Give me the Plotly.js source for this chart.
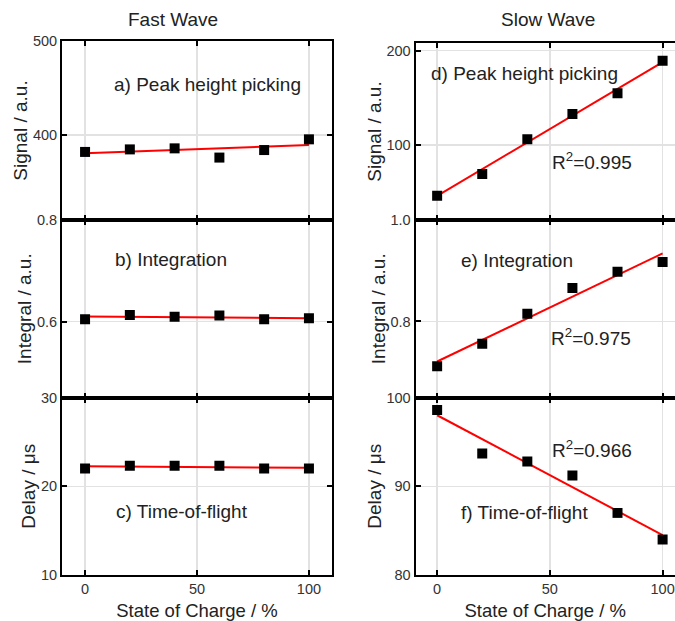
<!DOCTYPE html>
<html>
<head>
<meta charset="utf-8">
<script src="https://cdn.plot.ly/plotly-3.0.1.min.js"></script>
<style>html,body{margin:0;padding:0;background:#fff;}#chart{width:675px;height:621px;}</style>
</head>
<body>
<div id="chart"></div>
<script>
// ---- data ----
const soc = [0, 20, 40, 60, 80, 100];
const fitX = [0, 100];
const fastPeak = [382, 384.7, 385.8, 376, 384, 395.4];
const fastPeakFit = [380.5, 389.4];
const fastInt = [0.605, 0.613, 0.610, 0.612, 0.605, 0.607];
const fastIntFit = [0.6104, 0.607];
const fastTof = [22.0, 22.3, 22.3, 22.3, 22.0, 22.0];
const fastTofFit = [22.26, 22.08];
const slowPeak = [46.2, 69.2, 106, 132.9, 154.8, 189.4];
const slowPeakFit = [46, 188];
const slowInt = [0.7115, 0.756, 0.815, 0.866, 0.898, 0.917];
const slowIntFit = [0.721, 0.934];
const slowTof = [98.6, 93.7, 92.8, 91.2, 87.0, 84.0];
const slowTofFit = [98.0, 84.5];

const columnTitles = ["Fast Wave", "Slow Wave"];
const xTitle = "State of Charge / %";
const yTitles = ["Signal / a.u.", "Integral / a.u.", "Delay / μs"];
const panelLabels = ["a) Peak height picking", "b) Integration", "c) Time-of-flight",
                     "d) Peak height picking", "e) Integration", "f) Time-of-flight"];
const r2Labels = ["R<sup>2</sup>=0.995", "R<sup>2</sup>=0.975", "R<sup>2</sup>=0.966"];
const xTicks = [0, 50, 100];
const yTickSets = [[400, 500], [0.6, 0.8], [10, 20, 30], [100, 200], [0.8, 1.0], [80, 90, 100]];
const yTickText = [["400", "500"], ["0.6", "0.8"], ["10", "20", "30"], ["100", "200"], ["0.8", "1.0"], ["80", "90", "100"]];

// ---- traces ----
const series = [fastPeak, fastInt, fastTof, slowPeak, slowInt, slowTof];
const fits = [fastPeakFit, fastIntFit, fastTofFit, slowPeakFit, slowIntFit, slowTofFit];
const traces = [];
for (let i = 0; i < 6; i++) {
  const ax = i === 0 ? '' : String(i + 1);
  traces.push({x: fitX, y: fits[i], xaxis: 'x' + ax, yaxis: 'y' + ax, mode: 'lines',
    line: {color: '#ff0000', width: 2}, hoverinfo: 'skip'});
  traces.push({x: soc, y: series[i], xaxis: 'x' + ax, yaxis: 'y' + ax, mode: 'markers',
    marker: {symbol: 'square', size: 10, color: '#000'}});
}

// ---- layout ----
const W = 675, H = 621;
const fx = p => p / W;
const fy = p => 1 - p / H;
const xDomL = [fx(62), fx(332)];
const xDomR = [fx(415.5), 1];
const yDoms = [[fy(220), fy(41)], [fy(397.5), fy(220)], [fy(575), fy(397.5)]];
const yDomD = [fy(220), fy(43)];
const yRanges = [[309.6, 500], [0.451, 0.8], [10, 30], [20.5, 208.2], [0.65, 1.0], [80, 100]];

const FAM = 'Liberation Sans, Arial, sans-serif';
const tickFont = {family: FAM, size: 14.5, color: '#333'};
const titleFont = {family: FAM, size: 19, color: '#222'};
const xTitleFont = {family: FAM, size: 18.5, color: '#222'};

const layout = {
  width: W, height: H, showlegend: false,
  margin: {l: 0, r: 0, t: 0, b: 0},
  paper_bgcolor: '#fff', plot_bgcolor: '#fff',
  annotations: [], font: tickFont
};

for (let i = 0; i < 6; i++) {
  const ax = i === 0 ? '' : String(i + 1);
  const right = i >= 3;
  const row = i % 3;
  const bottom = row === 2;
  layout['xaxis' + ax] = {
    domain: right ? xDomR : xDomL,
    range: right ? [-9.6, 105.5] : [-10.3, 110.3],
    anchor: 'y' + ax,
    tickvals: xTicks, ticktext: xTicks.map(String),
    showticklabels: bottom,
    ticks: 'inside', ticklen: 5, tickwidth: 2, tickcolor: '#000',
    showline: true, linewidth: 2, linecolor: '#000', mirror: 'ticks',
    showgrid: true, gridcolor: '#e2e2e2', gridwidth: 1.5, zeroline: false,
    tickfont: tickFont,
    title: bottom ? {text: xTitle, font: xTitleFont, standoff: 8} : {text: ''}
  };
  layout['yaxis' + ax] = {
    domain: (right && row === 0) ? yDomD : yDoms[row],
    range: yRanges[i],
    anchor: 'x' + ax,
    tickvals: yTickSets[i], ticktext: yTickText[i],
    ticks: 'inside', ticklen: 5, tickwidth: 2, tickcolor: '#000',
    showline: true, linewidth: 2, linecolor: '#000', mirror: right ? false : 'ticks',
    showgrid: true, gridcolor: '#e2e2e2', gridwidth: 1.5, zeroline: false,
    tickfont: tickFont,
    title: {text: yTitles[row], font: titleFont, standoff: 0}
  };
}

// panel labels (data coords)
const labelPos = [[54.7, 454], [38.4, 0.7216], [43.2, 17.1], [38.8, 176], [35.2, 0.921], [38.8, 87.03]];
for (let i = 0; i < 6; i++) {
  const ax = i === 0 ? '' : String(i + 1);
  layout.annotations.push({xref: 'x' + ax, yref: 'y' + ax, x: labelPos[i][0], y: labelPos[i][1],
    xanchor: 'center', yanchor: 'middle',
    text: panelLabels[i], showarrow: false, font: titleFont});
}
const r2Pos = [[68.8, 83], [68.4, 0.7685], [68.8, 94.16]];
for (let j = 0; j < 3; j++) {
  const ax = String(j + 4);
  layout.annotations.push({xref: 'x' + ax, yref: 'y' + ax, x: r2Pos[j][0], y: r2Pos[j][1],
    xanchor: 'center', yanchor: 'middle',
    text: r2Labels[j], showarrow: false, font: titleFont});
}
layout.annotations.push({xref: 'paper', yref: 'paper', x: fx(172.5), y: fy(19.5), text: columnTitles[0],
  xanchor: 'center', yanchor: 'middle', showarrow: false, font: titleFont});
layout.annotations.push({xref: 'paper', yref: 'paper', x: fx(548), y: fy(19.5), text: columnTitles[1],
  xanchor: 'center', yanchor: 'middle', showarrow: false, font: titleFont});

Plotly.newPlot('chart', traces, layout, {displayModeBar: false, staticPlot: true});
</script>
</body>
</html>
